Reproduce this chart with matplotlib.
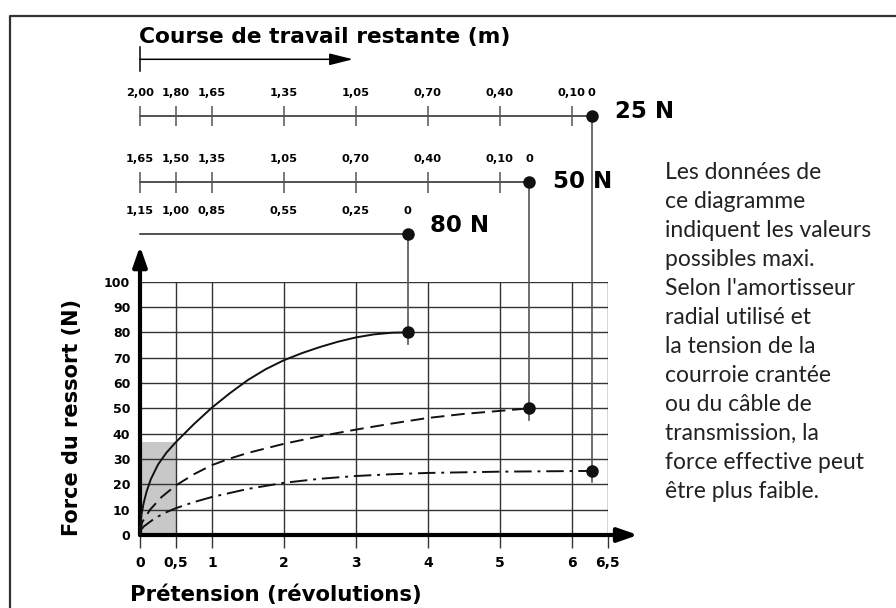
"""
Force du ressort en fonction de la prétension, avec la course de travail restante
"""
import matplotlib.pyplot as plt
from matplotlib.lines import Line2D
from matplotlib.patches import Rectangle

plt.rcParams["font.family"] = "DejaVu Sans"

# courbes force / prétension (révolutions, N)
rev_80 = [0, 0.02, 0.05, 0.09, 0.15, 0.25, 0.37, 0.5, 0.75, 1.0, 1.25, 1.5, 1.75,
          2.0, 2.25, 2.5, 2.75, 3.0, 3.25, 3.5, 3.72]
force_80 = [0.5, 8, 12.5, 17, 22, 27.8, 32.6, 36.7, 43.8, 50.3, 56, 61.2, 65.5,
            69, 71.8, 74.2, 76.3, 78, 79.2, 79.85, 80]
rev_50 = [0, 0.03, 0.14, 0.3, 0.5, 0.75, 1.0, 1.25, 1.5, 2.0, 2.5, 3.0, 3.5, 4.0,
          4.5, 5.0, 5.41]
force_50 = [1, 5, 10, 15, 19.6, 24, 27.6, 30.2, 32.4, 36, 39, 41.6, 44, 46.2,
            47.8, 49, 50]
rev_25 = [0, 0.05, 0.2, 0.35, 0.5, 0.75, 1.0, 1.5, 2.0, 2.5, 3.0, 3.5, 4.0, 5.0, 6.28]
force_25 = [1.5, 3.3, 6.5, 8.8, 10.6, 13, 15, 18.2, 20.6, 22.2, 23.3, 24, 24.5, 25, 25.3]

# course de travail restante (m) en face des révolutions
course_pos_25 = [0, 0.5, 1, 2, 3, 4, 5, 6, 6.28]
course_lab_25 = ["2,00", "1,80", "1,65", "1,35", "1,05", "0,70", "0,40", "0,10", "0"]
course_pos_50 = [0, 0.5, 1, 2, 3, 4, 5, 5.41]
course_lab_50 = ["1,65", "1,50", "1,35", "1,05", "0,70", "0,40", "0,10", "0"]
course_pos_80 = [0, 0.5, 1, 2, 3, 3.72]
course_lab_80 = ["1,15", "1,00", "0,85", "0,55", "0,25", "0"]

x_ticks = [0, 0.5, 1, 2, 3, 4, 5, 6, 6.5]
x_ticklabels = ["0", "0,5", "1", "2", "3", "4", "5", "6", "6,5"]
y_ticks = list(range(0, 101, 10))

note = ("Les données de\nce diagramme\nindiquent les valeurs\npossibles maxi.\n"
        "Selon l'amortisseur\nradial utilisé et\nla tension de la\ncourroie crantée\n"
        "ou du câble de\ntransmission, la\nforce effective peut\nêtre plus faible.")

W, H = 896, 608
fig = plt.figure(figsize=(W / 100, H / 100), dpi=100)
ax = fig.add_axes([140 / W, 73 / H, 467.7 / W, 253.3 / H])
ax.set_xlim(0, 6.5)
ax.set_ylim(0, 100)
for s in ax.spines.values():
    s.set_visible(False)

ax.set_xticks(x_ticks)
ax.set_xticklabels(x_ticklabels, fontweight="bold", fontsize=10)
ax.set_yticks(y_ticks)
ax.set_yticklabels([str(v) for v in y_ticks], fontweight="bold", fontsize=9)
ax.tick_params(axis="x", length=9, width=1, color="#333", pad=6)
ax.tick_params(axis="y", length=0, pad=7)
ax.set_axisbelow(True)
ax.grid(True, color="#333", lw=1)

# zone grisée sous la courbe 80 N jusqu'à 0,5 tour
ax.add_patch(Rectangle((0, 0), 0.5, force_80[rev_80.index(0.5)],
                       facecolor="#c8c8c8", edgecolor="none", zorder=0.2))

# axes avec flèches
arrow_kw = dict(arrowstyle="-|>,head_length=1.0,head_width=0.35", lw=3,
                color="black", shrinkA=0, shrinkB=0, mutation_scale=12)
ax.annotate("", xy=(6.92, 0), xytext=(0, 0), arrowprops=arrow_kw, annotation_clip=False)
ax.annotate("", xy=(0, 114), xytext=(0, 0), arrowprops=arrow_kw, annotation_clip=False)

series = [
    (rev_80, force_80, "-", course_pos_80, course_lab_80, 118.7, False, "80 N", (16, 6)),
    (rev_50, force_50, (0, (7, 3.5)), course_pos_50, course_lab_50, 139.2, True, "50 N", (17, 1)),
    (rev_25, force_25, (0, (9, 3, 1.5, 3)), course_pos_25, course_lab_25, 165.4, True, "25 N", (17, 3)),
]

for rev, force, ls, pos, labs, level, ticks, name, off in series:
    ax.plot(rev, force, color="#111", lw=1.4, ls=ls, zorder=3, clip_on=False,
            solid_joinstyle="round")
    ax.plot(rev[-1], force[-1], "o", ms=8, color="#111", zorder=4, clip_on=False)
    # liaison verticale vers l'échelle de course
    ax.plot([rev[-1], rev[-1]], [force[-1] - 4.5, level], color="#555", lw=1.2,
            zorder=2, clip_on=False)
    ax.plot([0, pos[-1]], [level, level], color="#222", lw=1.1, clip_on=False)
    if ticks:
        ax.vlines(pos[:-1], level - 4, level + 4, color="#555", lw=1.1, clip_on=False)
    ax.plot(pos[-1], level, "o", ms=8, color="#111", zorder=4, clip_on=False)
    for p, lab in zip(pos, labs):
        ax.annotate(lab, (p, level), xytext=(0, 16.5), textcoords="offset points",
                    ha="center", va="center", fontsize=8.2, fontweight="bold",
                    annotation_clip=False)
    ax.annotate(name, (pos[-1], level), xytext=off, textcoords="offset points",
                ha="left", va="center", fontsize=16.5, fontweight="bold",
                annotation_clip=False)

# flèche sous le titre de la course
ax.annotate("", xy=(2.96, 187.8), xytext=(0, 187.8),
            arrowprops=dict(arrowstyle="-|>,head_length=1.2,head_width=0.3", lw=1.1,
                            color="black", shrinkA=0, shrinkB=0, mutation_scale=12),
            annotation_clip=False)
ax.plot([0, 0], [183, 192.5], color="black", lw=1.1, clip_on=False)

fig.text(139 / W, 1 - 37 / H, "Course de travail restante (m)", fontsize=15.7,
         fontweight="bold", ha="left", va="center")
fig.text(130 / W, 1 - 595 / H, "Prétension (révolutions)", fontsize=15.3,
         fontweight="bold", ha="left", va="center")
fig.text(72 / W, 1 - 417 / H, "Force du ressort (N)", fontsize=15,
         fontweight="bold", ha="center", va="center", rotation=90)
fig.text(665 / W, 1 - 162 / H, note, fontsize=16.5, family="Lato", color="#222",
         ha="left", va="top", linespacing=1.47)

# cadre
fig.add_artist(Line2D([9.5 / W, 9.5 / W, 1], [0, 1 - 16 / H, 1 - 16 / H],
                      transform=fig.transFigure, color="#333", lw=1.6))

fig.savefig("out.png", dpi=100)
